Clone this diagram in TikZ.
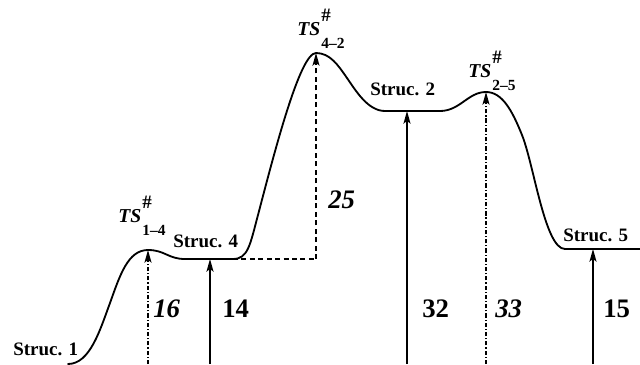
\documentclass[tikz,border=0pt]{standalone}
\usepackage{fontspec}
\setmainfont{Liberation Serif}
\usetikzlibrary{arrows.meta}
\newcommand{\tslbl}[1]{\textit{TS}\kern0.8pt\rlap{\raisebox{9.5pt}{\fontsize{13.5}{15}\selectfont\#}}\raisebox{-9.5pt}{\fontsize{11}{13}\selectfont #1}}
\tikzset{
  every node/.style={font=\bfseries\fontsize{13.5}{16}\selectfont, inner sep=0pt, anchor=base west},
  profile/.style={line width=1.3pt, line cap=round, line join=round},
  level arrow/.style={line width=1.2pt, -{Stealth[length=9pt,width=5pt,inset=2pt]}},
  ts arrow/.style={level arrow, line width=0.9pt, dash pattern=on 3pt off 1.4pt on 0.8pt off 1.4pt},
  gap arrow/.style={level arrow, dash pattern=on 3.5pt off 2.5pt},
  gap line/.style={line width=1.1pt, dash pattern=on 3.5pt off 2.5pt},
  ts label/.style={font=\bfseries\fontsize{14}{16}\selectfont},
  barrier/.style={font=\bfseries\itshape\fontsize{19}{22}\selectfont},
  energy/.style={font=\bfseries\fontsize{19}{22}\selectfont}
}

\begin{document}
\begin{tikzpicture}[x=0.025cm,y=-0.025cm]
  \useasboundingbox (0,0) rectangle (640,364);

  % stationary points on the profile
  \coordinate (s1) at (68,364);
  \coordinate (ts14) at (148,250);
  \coordinate (s4a) at (185,259);
  \coordinate (s4b) at (233,259);
  \coordinate (ts42) at (316,53);
  \coordinate (s2a) at (385,111);
  \coordinate (s2b) at (440,111);
  \coordinate (ts25) at (486,92);
  \coordinate (s5a) at (565,249);
  \coordinate (s5b) at (640,249);

  \draw[profile] (s1) .. controls (90,364) and (100,330) .. (110,303)
    .. controls (120,275) and (128,250) .. (ts14)
    .. controls (165,250) and (168,259) .. (s4a) -- (s4b)
    .. controls (248,259) and (250,245) .. (258,215)
    .. controls (275,150) and (300,53) .. (ts42)
    .. controls (330,53) and (338,65) .. (347,78)
    .. controls (356,91) and (368,111) .. (s2a) -- (s2b)
    .. controls (460,111) and (468,92) .. (ts25)
    .. controls (502,92) and (512,110) .. (522,135)
    .. controls (534,165) and (545,249) .. (s5a) -- (s5b);

  % arrow ends
  \coordinate (b16) at (148,364);
  \coordinate (b14) at (210,364);
  \coordinate (t14) at (210,259);
  \coordinate (c25) at (316,259);
  \coordinate (b32) at (407,364);
  \coordinate (t32) at (407,111);
  \coordinate (b33) at (486,364);
  \coordinate (b15) at (593,364);
  \coordinate (t15) at (593,249);

  \draw[ts arrow] (b16) -- (ts14);
  \draw[level arrow] (b14) -- (t14);
  \draw[gap line] (s4b) -- (c25);
  \draw[gap arrow] (c25) -- (ts42);
  \draw[level arrow] (b32) -- (t32);
  \draw[ts arrow] (b33) -- (ts25);
  \draw[level arrow] (b15) -- (t15);

  % labels
  \node (lbl1) at (13,355) {Struc. 1};
  \node (lbl4) at (173,247) {Struc. 4};
  \node (lbl2) at (370,95) {Struc. 2};
  \node (lbl5) at (563,241) {Struc. 5};
  \node[ts label] (lts14) at (118,222) {\tslbl{1–4}};
  \node[ts label] (lts42) at (297,35) {\tslbl{4–2}};
  \node[ts label] (lts25) at (468,77) {\tslbl{2–5}};

  \node[barrier] (v16) at (153,317) {16};
  \node[energy] (v14) at (222,317) {14};
  \node[barrier] (v25) at (328,208) {25};
  \node[energy] (v32) at (422,317) {32};
  \node[barrier] (v33) at (495,317) {33};
  \node[energy] (v15) at (603,317) {15};
\end{tikzpicture}
\end{document}
